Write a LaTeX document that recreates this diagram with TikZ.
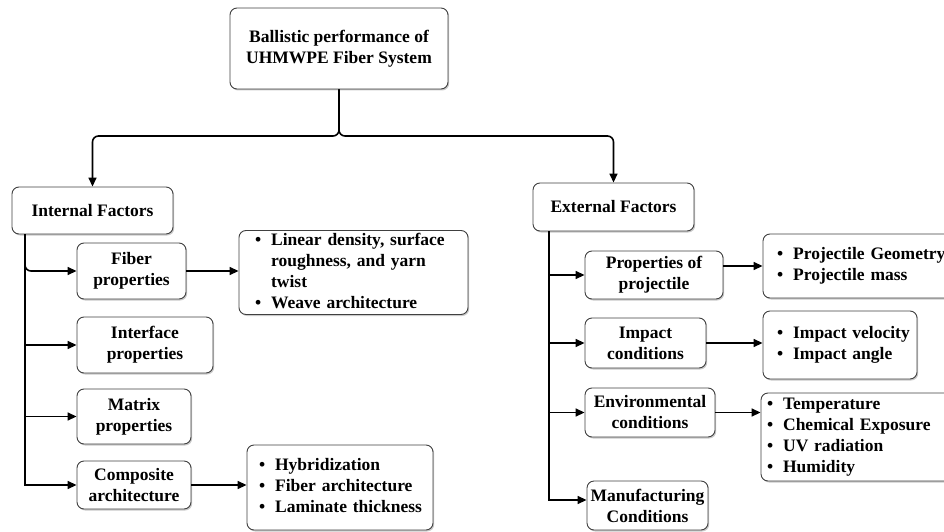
\documentclass[tikz,border=0pt]{standalone}
\usepackage{fontspec}
\setmainfont{Liberation Serif}
\usetikzlibrary{arrows.meta,shadows}
\begin{document}
\begin{tikzpicture}[x=1pt,y=-1pt,
  box/.style={draw=black!75, line width=0.9pt, rounded corners=7pt, fill=white,
    align=center, inner sep=0pt, font=\bfseries\fontsize{17.5}{21}\selectfont,
    drop shadow={shadow xshift=1.2pt,shadow yshift=-1.5pt,opacity=0.35,fill=black!60}},
  lbox/.style={box, align=left},
  conn/.style={line width=1.6pt, -{Triangle[length=9pt,width=8pt]}},
]
\useasboundingbox (0,0) rectangle (944,532);
\clip (0,0) rectangle (944,532);
% top
\node[box, minimum width=218pt, minimum height=81pt] (top) at (339,48.5)
  {Ballistic performance of\\UHMWPE Fiber System};
\node[box, minimum width=161pt, minimum height=47pt] (intfac) at (92.5,210.5) {Internal Factors};
\node[box, minimum width=161pt, minimum height=48pt] (extfac) at (613.5,207) {External Factors};
% internal
\node[box, minimum width=109pt, minimum height=56pt] (fiber) at (131.5,271) {Fiber\\properties};
\node[lbox, minimum width=229pt, minimum height=81pt, inner xsep=16pt, text width=197pt] (fiberlist) at (353.5,272.5)
  {\begin{tabular}{@{}l@{\hspace{10pt}}l@{}}\textbullet & Linear density, surface\\ & roughness, and yarn\\ & twist\\ \textbullet & Weave architecture\end{tabular}};
\node[box, minimum width=136pt, minimum height=56pt] (interface) at (145,345) {Interface\\properties};
\node[box, minimum width=114pt, minimum height=55pt] (matrix) at (134,416.5) {Matrix\\properties};
\node[box, minimum width=114pt, minimum height=48pt] (composite) at (134,485) {Composite\\architecture};
\node[lbox, minimum width=186pt, minimum height=85pt, inner xsep=12pt, text width=162pt] (complist) at (340,487.5)
  {\begin{tabular}{@{}l@{\hspace{10pt}}l@{}}\textbullet & Hybridization\\ \textbullet & Fiber architecture\\ \textbullet & Laminate thickness\end{tabular}};
% external
\node[box, minimum width=138pt, minimum height=48pt] (projprop) at (654,275) {Properties of\\projectile};
\node[lbox, minimum width=197pt, minimum height=64pt, inner xsep=14pt, text width=169pt] (projlist) at (861.5,266)
  {\begin{tabular}{@{}l@{\hspace{10pt}}l@{}}\textbullet & Projectile Geometry\\ \textbullet & Projectile mass\end{tabular}};
\node[box, minimum width=121pt, minimum height=50pt] (impact) at (645.5,343) {Impact\\conditions};
\node[lbox, minimum width=154pt, minimum height=68pt, inner xsep=14pt, text width=126pt] (impactlist) at (840,345)
  {\begin{tabular}{@{}l@{\hspace{10pt}}l@{}}\textbullet & Impact velocity\\ \textbullet & Impact angle\end{tabular}};
\node[box, minimum width=130pt, minimum height=49pt] (env) at (650,412.5) {Environmental\\conditions};
\node[lbox, minimum width=204pt, minimum height=88pt, inner xsep=6pt, text width=192pt] (envlist) at (863,437)
  {\begin{tabular}{@{}l@{\hspace{10pt}}l@{}}\textbullet & Temperature\\ \textbullet & Chemical Exposure\\ \textbullet & UV radiation\\ \textbullet & Humidity\end{tabular}};
\node[box, minimum width=121pt, minimum height=49pt] (manuf) at (647.5,505.5) {Manufacturing\\Conditions};
% top connectors
\coordinate (split) at (340,136);
\draw[conn, rounded corners=6pt] (top.south) -- (top.south |- split) -| (intfac.north);
\draw[conn, rounded corners=6pt] (top.south) -- (top.south |- split) -| (extfac.north);
% internal trunk
\coordinate (itop) at (25,234);
\draw[conn, rounded corners=6pt] (itop) |- (fiber.west);
\draw[conn] (itop) |- (composite.west);
\draw[conn] (itop |- interface.west) -- (interface.west);
\draw[conn] (itop |- matrix.west) -- (matrix.west);
\draw[conn] (fiber.east) -- (fiber.east -| fiberlist.west);
\draw[conn] (composite.east) -- (composite.east -| complist.west);
% external trunk
\coordinate (etop) at (549,231);
\coordinate (ebot) at (549,500);
\draw[conn] (etop) -- (ebot) -- (ebot -| manuf.west);
\draw[conn] (etop |- projprop.west) -- (projprop.west);
\draw[conn] (etop |- impact.west) -- (impact.west);
\draw[conn] (etop |- env.west) -- (env.west);
\draw[conn] (projprop.east |- projlist.west) -- (projlist.west);
\draw[conn] (impact.east) -- (impact.east -| impactlist.west);
\draw[conn] (env.east) -- (env.east -| envlist.west);
\end{tikzpicture}
\end{document}
